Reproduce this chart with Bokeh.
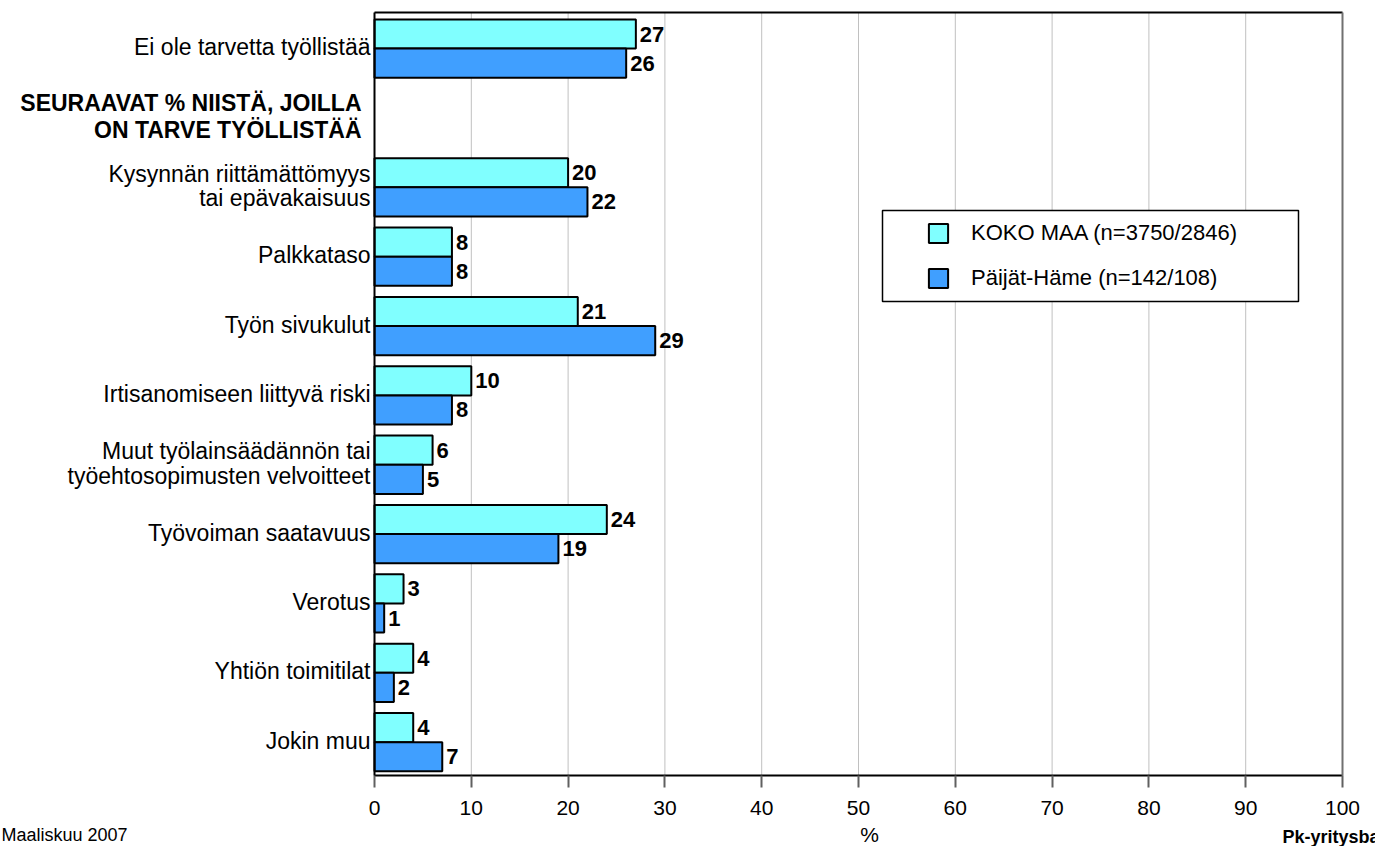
from bokeh.plotting import figure
from bokeh.models import (Range1d, ColumnDataSource, Label, Legend, LegendItem,
                          BoxAnnotation, FixedTicker, LinearAxis)
from bokeh.core.properties import value
from bokeh.embed import file_html
from bokeh.resources import INLINE

# ---------------- data ----------------
categories = [
    "Ei ole tarvetta työllistää",
    "Kysynnän riittämättömyys\ntai epävakaisuus",
    "Palkkataso",
    "Työn sivukulut",
    "Irtisanomiseen liittyvä riski",
    "Muut työlainsäädännön tai\ntyöehtosopimusten velvoitteet",
    "Työvoiman saatavuus",
    "Verotus",
    "Yhtiön toimitilat",
    "Jokin muu",
]
heading = "SEURAAVAT % NIISTÄ, JOILLA\nON TARVE TYÖLLISTÄÄ"
koko_maa = [27, 20, 8, 21, 10, 6, 24, 3, 4, 4]
paijat_hame = [26, 22, 8, 29, 8, 5, 19, 1, 2, 7]
series_names = ["KOKO MAA (n=3750/2846)", "Päijät-Häme (n=142/108)"]
x_ticks = list(range(0, 101, 10))
x_title = "%"
footer_left = "Maaliskuu 2007"
footer_right = "Pk-yritysbarometri"

row_order = [categories[0], heading] + categories[1:]
n_rows = len(row_order)

# ---------------- layout (canvas pixels) ----------------
W, H = 1375, 846
FL, FR, FT, FB = 374, 1342, 12, 775
FONT = "Liberation Sans"
C1, C2 = "#80ffff", "#409fff"
sx = (FR - FL) / 100.0
sy = (FB - FT) / n_rows


def px_x(px):
    return (px - FL) / sx


def px_y(py):
    return (py - FT) / sy


p = figure(width=W, height=H, output_backend="svg", toolbar_location=None,
           x_range=Range1d(px_x(0), px_x(W)), y_range=Range1d(px_y(H), px_y(0)),
           min_border=0, min_border_left=0, min_border_right=0,
           min_border_top=0, min_border_bottom=0)
p.background_fill_color = "white"
p.border_fill_color = "white"
p.outline_line_color = None
p.xgrid.visible = False
p.ygrid.visible = False

# vertical grid lines at the ticks
p.segment(x0=x_ticks, y0=[0] * len(x_ticks), x1=x_ticks, y1=[n_rows] * len(x_ticks),
          line_color="#c0c0c0", line_width=1)

centers = [row_order.index(c) + 0.5 for c in categories]
off = 0.21
src = ColumnDataSource(dict(
    y1=[c - off + 0.02 for c in centers],
    y2=[c + off + 0.02 for c in centers],
    koko=koko_maa,
    paijat=paijat_hame,
    koko_t=[str(v) for v in koko_maa],
    paijat_t=[str(v) for v in paijat_hame],
))

r1 = p.hbar(y="y1", left=0, right="koko", height=0.42, source=src,
            fill_color=C1, line_color="black", line_width=2)
r2 = p.hbar(y="y2", left=0, right="paijat", height=0.42, source=src,
            fill_color=C2, line_color="black", line_width=2)

for xcol, ycol, tcol in (("koko", "y1", "koko_t"), ("paijat", "y2", "paijat_t")):
    p.text(x=xcol, y=ycol, text=tcol, source=src, x_offset=4,
           text_baseline="middle", text_align="left",
           text_font=value(FONT), text_font_style="bold",
           text_font_size="22px", text_color="black")

# category labels
cat_src = ColumnDataSource(dict(x=[0] * len(categories), y=centers, text=categories))
p.text(x="x", y="y", text="text", source=cat_src, x_offset=-4,
       text_align="right", text_baseline="middle",
       text_font=value(FONT), text_font_size="23px", text_color="black",
       text_line_height=0.95)
p.text(x=[0], y=[row_order.index(heading) + 0.5], text=[heading], x_offset=-13,
       text_align="right", text_baseline="middle",
       text_font=value(FONT), text_font_size="23px", text_font_style="bold",
       text_color="black", text_line_height=1.02)

# x axis at the bottom of the plotting area
ax = p.xaxis[0]
ax.fixed_location = n_rows
ax.bounds = (0, 100)
ax.ticker = FixedTicker(ticks=x_ticks)
ax.axis_line_color = "black"
ax.axis_line_width = 2
ax.major_tick_in = 0
ax.major_tick_out = 12
ax.major_tick_line_color = "#606060"
ax.major_tick_line_width = 2
ax.minor_tick_line_color = None
ax.major_label_text_font = FONT
ax.major_label_text_font_size = "21px"
ax.major_label_text_color = "black"
ax.major_label_standoff = 13

# left axis line
ay = p.yaxis[0]
ay.fixed_location = 0
ay.bounds = (0, n_rows)
ay.ticker = FixedTicker(ticks=[])
ay.major_label_text_font_size = "0px"
ay.minor_tick_line_color = None
ay.major_tick_line_color = None
ay.axis_line_color = "black"
ay.axis_line_width = 2

# top and right frame lines
top = LinearAxis(fixed_location=0, bounds=(0, 100), ticker=FixedTicker(ticks=[]),
                 major_label_text_font_size="0px", major_tick_line_color=None,
                 minor_tick_line_color=None, axis_line_color="black", axis_line_width=2)
p.add_layout(top, "above")
right = LinearAxis(fixed_location=100, bounds=(0, n_rows), ticker=FixedTicker(ticks=[]),
                   major_label_text_font_size="0px", major_tick_line_color=None,
                   minor_tick_line_color=None, axis_line_color="#707070", axis_line_width=2)
p.add_layout(right, "right")

p.add_layout(Label(x=px_x(869), y=px_y(834), text=x_title, text_align="center",
                   text_baseline="middle", text_font=FONT, text_font_size="21px",
                   text_color="black"))
p.add_layout(Label(x=px_x(1), y=px_y(834), text=footer_left, text_align="left",
                   text_baseline="middle", text_font=FONT, text_font_size="18px",
                   text_color="black"))
p.add_layout(Label(x=px_x(1282), y=px_y(836), text=footer_right, text_align="left",
                   text_baseline="middle", text_font=FONT, text_font_size="18px",
                   text_font_style="bold", text_color="black"))

# legend box + legend
p.add_layout(BoxAnnotation(left=px_x(882), right=px_x(1298), top=px_y(210), bottom=px_y(301),
                           fill_color="white", fill_alpha=1.0,
                           line_color="black", line_alpha=1.0, line_width=1.5))
legend = Legend(items=[LegendItem(label=series_names[0], renderers=[r1]),
                       LegendItem(label=series_names[1], renderers=[r2])],
                location=(926, H - 291), padding=0, margin=0, spacing=19,
                glyph_width=24, glyph_height=24, label_height=24, label_standoff=21,
                label_text_font=FONT, label_text_font_size="22px",
                label_text_color="black",
                border_line_color=None, background_fill_alpha=0)
p.add_layout(legend)

open("out.html", "w").write(file_html(p, INLINE))
